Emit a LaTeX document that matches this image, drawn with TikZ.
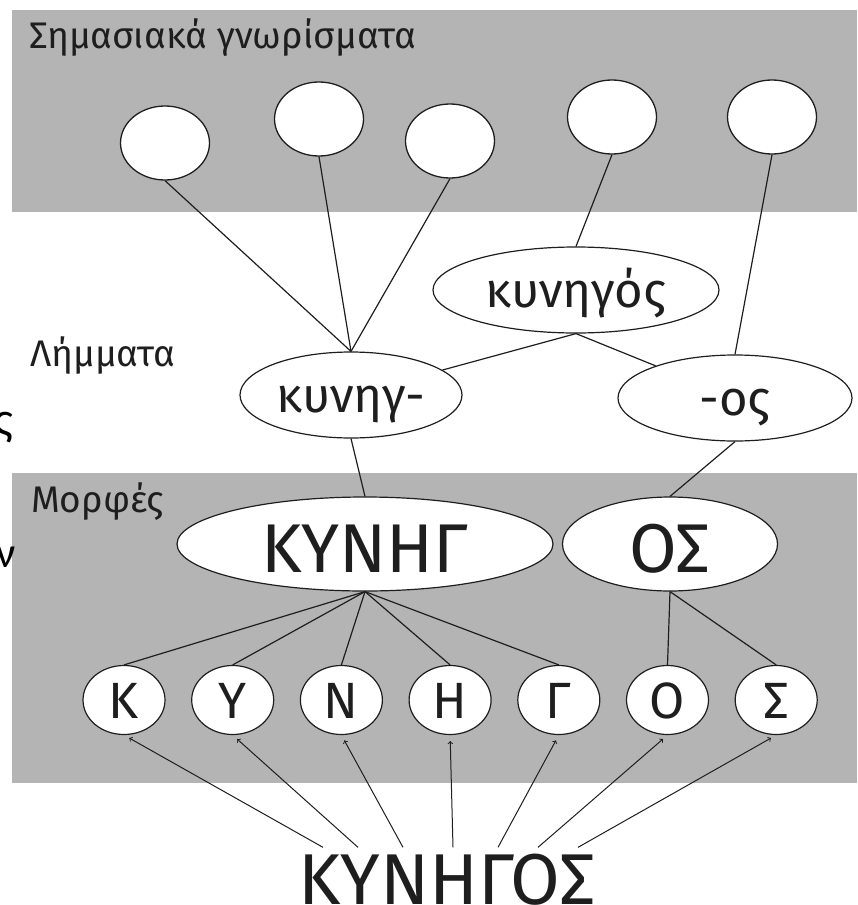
\documentclass[tikz,border=0pt]{standalone}
\usepackage{fontspec}
\newfontfamily\diagfont{Fira Sans}
\newfontfamily\bodyfont{Carlito}
\usetikzlibrary{positioning, shapes.geometric, arrows}
\definecolor{bandgray}{RGB}{180,180,180}
\definecolor{ink}{RGB}{30,30,30}
\tikzstyle{sem}    = [ellipse, draw=ink, line width=1.3pt, fill=white, minimum width=89pt, minimum height=74pt, inner sep=0pt]
\tikzstyle{lemma}  = [ellipse, draw=ink, line width=1.2pt, fill=white, minimum height=86pt, inner sep=0pt, text height=40pt, text depth=6pt, text=ink, font=\diagfont\fontsize{49}{49}\selectfont]
\tikzstyle{form}   = [ellipse, draw=ink, line width=1.2pt, fill=white, minimum height=94pt, inner sep=0pt, text height=56pt, text depth=0pt, text=ink, font=\diagfont\fontsize{69}{69}\selectfont]
\tikzstyle{letter} = [ellipse, draw=ink, line width=1.2pt, fill=white, minimum width=82pt, minimum height=69pt, inner sep=0pt, text height=36pt, text depth=0pt, text=ink, font=\diagfont\fontsize{51}{51}\selectfont]
\tikzstyle{layer}  = [anchor=base west, inner sep=0pt, text=ink, font=\diagfont\fontsize{37}{37}\selectfont]
\tikzstyle{link}   = [line width=1.2pt, draw=ink]
\tikzstyle{feed}   = [->, line width=1pt, draw=ink, shorten >=6pt]

\begin{document}
\begin{tikzpicture}[x={(1pt,0)}, y={(0,-1pt)}]
    \useasboundingbox (0,0) rectangle (857,905);
    % grey bands
    \fill[bandgray] (12,10) rectangle (857,212);
    \fill[bandgray] (12,473) rectangle (857,783);

    % cut-off text at the left edge
    \node[anchor=base east, inner sep=0pt, text=black, font=\bodyfont\fontsize{48}{48}\selectfont] (cutA) at (13,435) {ς};
    \node[anchor=base east, inner sep=0pt, text=black, font=\bodyfont\fontsize{43}{43}\selectfont] (cutB) at (16,567) {ν};
    \node[anchor=base east, inner sep=0pt, text=black, font=\bodyfont\fontsize{43}{43}\selectfont] (cutC) at (3,888) {.};

    \node[layer] (semlabel)  at (29,48)  {Σημασιακά γνωρίσματα};
    \node[layer] (lemlabel)  at (30,366) {Λήμματα};
    \node[layer] (formlabel) at (31,512) {Μορφές};

    \node[sem] (s1) at (165,143) {};
    \node[sem] (s2) at (319,119) {};
    \node[sem] (s3) at (450,141) {};
    \node[sem] (s4) at (612,117) {};
    \node[sem] (s5) at (772,117) {};

    \node[lemma, minimum width=286pt] (kgos)  at (576,290) {κυνηγός};
    \node[lemma, minimum width=222pt] (kunhg) at (351,395) {κυνηγ-};
    \node[lemma, minimum width=234pt] (ending) at (735,398) {-ος};

    \node[form, minimum width=376pt] (stem) at (365,544) {ΚΥΝΗΓ};
    \node[form, minimum width=215pt] (suff) at (670,544) {ΟΣ};

    \node[letter] (lK) at (124,700) {Κ};
    \node[letter] (lY) [right=25.5pt of lK] {Υ};
    \node[letter] (lN) [right=25.5pt of lY] {Ν};
    \node[letter] (lH) [right=25.5pt of lN] {Η};
    \node[letter] (lG) [right=25.5pt of lH] {Γ};
    \node[letter] (lO) [right=25.5pt of lG] {Ο};
    \node[letter] (lS) [right=25.5pt of lO] {Σ};

    \node[anchor=base, inner sep=0pt, text=ink, font=\diagfont\fontsize{72}{72}\selectfont] (word) at (447,904) {ΚΥΝΗΓΟΣ};

    \draw[link] (s1.south) -- (kunhg.north);
    \draw[link] (s2.south) -- (kunhg.north);
    \draw[link] (s3.south) -- (kunhg.north);
    \draw[link] (s4.south) -- (kgos.north);
    \draw[link] (s5.south) -- (ending.north);
    \draw[link] (kgos.south) -- (kunhg);
    \draw[link] (kgos.south) -- (ending);
    \draw[link] (kunhg.south) -- (stem.north);
    \draw[link] (ending.south) -- (suff.north);
    \foreach \l in {lK, lY, lN, lH, lG}
        \draw[link] (stem.south) -- (\l.north);
    \foreach \l in {lO, lS}
        \draw[link] (suff.south) -- (\l.north);

    \foreach \l/\dx in {lK/-124, lY/-89, lN/-44, lH/6, lG/51, lO/91, lS/131}
        \draw[feed] ([xshift=\dx pt, yshift=6pt]word.north) -- (\l.south);
\end{tikzpicture}
\end{document}
